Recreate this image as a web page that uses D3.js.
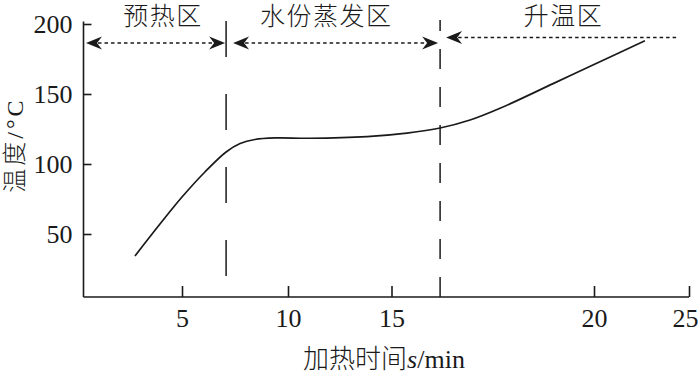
<!DOCTYPE html>
<html><head><meta charset="utf-8">
<script src="https://cdn.jsdelivr.net/npm/d3@7"></script>
<style>
html,body{margin:0;padding:0;background:#fff;}
svg{display:block;}
</style></head>
<body>
<svg id="chart" width="700" height="374"></svg>
<script>
// ---- data ----
const xTicks = [5, 10, 15, 20, 25];
const yTicks = [50, 100, 150, 200];
const timeMin = [2.78, 3.96, 5.0, 6.08, 7.08, 7.74, 8.44, 9.39, 11.06, 13.82, 15.38, 16.2, 16.94, 17.68, 18.99, 20.0, 22.68];
const tempC   = [34.3, 57.1, 76.4, 94.3, 108.6, 114.6, 117.5, 118.6, 118.4, 119.6, 122.1, 125.7, 131.4, 139.8, 157.4, 171.1, 188.1];
const zoneNames = ["预热区", "水份蒸发区", "升温区"];
const zoneBounds = [7.08, 16.2];
const zoneLabelX = [4.1, 11.85, 19.25];
const xTitle = "加热时间";
const yTitle = "温度";

// ---- scales (axis is non-uniform in the original) ----
const x = d3.scaleLinear().domain([0.35, 5, 10, 15, 20, 25]).range([83.5, 182, 288, 391.5, 594, 689]);
const y = d3.scaleLinear().domain([5, 200]).range([297, 24]);

const svg = d3.select("#chart");
const ink = "#1a1a1a";
const serif = "'Liberation Serif','Times New Roman',serif";
// Latin font first (compact metrics), CJK glyphs fall back to Noto Sans CJK
const cjk = "'Liberation Serif','Noto Sans CJK SC','Noto Sans CJK JP',sans-serif";

// axes
const xAxis = svg.append("g").attr("transform", `translate(0,${y(5)})`)
  .call(d3.axisBottom(x).tickValues(xTicks).tickSizeInner(-11).tickSizeOuter(0).tickPadding(0));
xAxis.select(".domain").remove();
xAxis.append("line").attr("x1", x(0.35)).attr("x2", x(25)).attr("stroke", ink).attr("stroke-width", 1.6);
xAxis.selectAll(".tick line").attr("stroke", ink).attr("stroke-width", 1.6);
xAxis.selectAll(".tick text").attr("fill", ink).attr("font-family", serif).attr("font-size", 26)
  .attr("y", 30).attr("dy", 0)
  .attr("dx", d => d === 25 ? -4 : 0);

const yAxis = svg.append("g").attr("transform", `translate(${x(0.35)},0)`)
  .call(d3.axisLeft(y).tickValues(yTicks).tickSizeInner(-8).tickSizeOuter(0).tickPadding(11));
yAxis.select(".domain").remove();
yAxis.append("line").attr("y1", y(5)).attr("y2", y(201.7)).attr("stroke", ink).attr("stroke-width", 1.6);
yAxis.selectAll(".tick line").attr("stroke", ink).attr("stroke-width", 1.6);
yAxis.selectAll(".tick text").attr("fill", ink).attr("font-family", serif).attr("font-size", 26)
  .attr("dy", "0.34em");

// zone dashed boundaries
svg.append("line").attr("x1", x(zoneBounds[0])).attr("x2", x(zoneBounds[0]))
  .attr("y1", 21).attr("y2", y(5)).attr("stroke", ink).attr("stroke-width", 1.5)
  .attr("stroke-dasharray", "36,37");
svg.append("line").attr("x1", x(zoneBounds[1])).attr("x2", x(zoneBounds[1]))
  .attr("y1", y(5)).attr("y2", 20).attr("stroke", ink).attr("stroke-width", 1.5)
  .attr("stroke-dasharray", "20,18");

// arrows
function arrowHead(px, py, dir) {
  const L = 16, W = 6.5, N = 11;
  svg.append("path")
    .attr("d", `M${px},${py} L${px - dir*L},${py - W} L${px - dir*N},${py} L${px - dir*L},${py + W} Z`)
    .attr("fill", ink);
}
function dotted(x1, x2, py) {
  svg.append("line").attr("x1", x1).attr("x2", x2).attr("y1", py).attr("y2", py)
    .attr("stroke", ink).attr("stroke-width", 1.6).attr("stroke-dasharray", "3.5,3");
}
const a1L = x(0.35) + 2.5, a1R = x(zoneBounds[0]) - 1;
dotted(a1L + 12, a1R - 12, 43); arrowHead(a1L, 43, -1); arrowHead(a1R, 43, 1);
const a2L = x(zoneBounds[0]) + 7, a2R = x(zoneBounds[1]) - 2;
dotted(a2L + 12, a2R - 12, 43); arrowHead(a2L, 43, -1); arrowHead(a2R, 43, 1);
const a3L = x(zoneBounds[1]) + 6, a3R = x(24.45);
dotted(a3L + 12, a3R, 37.5); arrowHead(a3L, 37.5, -1);

// zone labels
svg.selectAll(".zone").data(zoneNames).join("text")
  .attr("x", (d, i) => x(zoneLabelX[i])).attr("y", 24.5)
  .attr("text-anchor", "middle").attr("font-family", cjk).attr("font-weight", 300)
  .attr("font-size", 25).attr("letter-spacing", 1.5).attr("fill", ink).text(d => d);

// curve
const pts = timeMin.map((t, i) => [x(t), y(tempC[i])]);
svg.append("path").attr("d", d3.line().curve(d3.curveCatmullRom.alpha(0.5))(pts))
  .attr("fill", "none").attr("stroke", ink).attr("stroke-width", 1.7);

// axis titles
const xt = svg.append("text").attr("x", 384).attr("y", 368).attr("text-anchor", "middle")
  .attr("fill", ink).attr("font-size", 26).attr("font-family", cjk);
xt.append("tspan").attr("font-weight", 300).text(xTitle);
xt.append("tspan").attr("font-family", serif).attr("font-style", "italic").text("s");
xt.append("tspan").attr("font-family", serif).text("/min");

const yt = svg.append("text").attr("transform", "translate(22.5,145) rotate(-90)")
  .attr("text-anchor", "middle").attr("fill", ink).attr("font-size", 24).attr("letter-spacing", 3)
  .attr("font-family", cjk);
yt.append("tspan").attr("font-weight", 300).text(yTitle);
yt.append("tspan").attr("font-family", serif).text("/°C");
</script>
</body></html>
